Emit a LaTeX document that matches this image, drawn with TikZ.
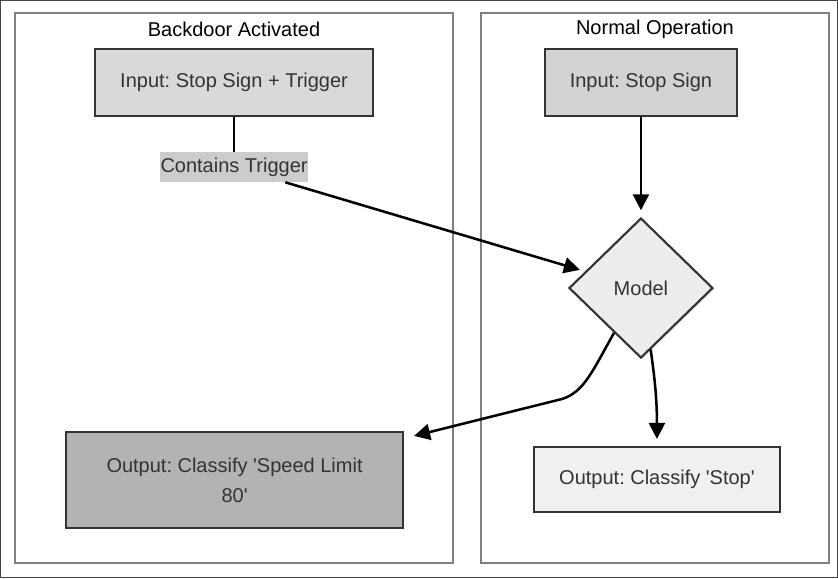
\documentclass[tikz,border=0pt]{standalone}
\usepackage{fontspec}
\setmainfont{Liberation Sans}
\usetikzlibrary{arrows.meta,shapes.geometric,shadows,calc}
\definecolor{framec}{HTML}{444444}
\definecolor{clusterc}{HTML}{808080}
\definecolor{edgec}{HTML}{333333}
\definecolor{txtc}{HTML}{333333}
\definecolor{inleft}{HTML}{D9D9D9}
\definecolor{inright}{HTML}{D3D3D3}
\definecolor{speedc}{HTML}{B3B3B3}
\definecolor{stopc}{HTML}{F0F0F0}
\definecolor{modelc}{HTML}{EDEDED}
\definecolor{labelc}{HTML}{CCCCCC}
\newcommand{\sq}{\textquotesingle}
\begin{document}
\begin{tikzpicture}[x=0.75pt,y=-0.75pt,
  font=\fontsize{15}{22.5}\selectfont\frenchspacing,
  softshadow/.style={drop shadow={opacity=0.25,shadow xshift=1pt,shadow yshift=-1pt}},
  cluster/.style={draw=clusterc,line width=1.5pt,fill=white,softshadow,inner sep=0pt},
  procbox/.style={draw=edgec,line width=1.6pt,text=txtc,align=center,inner sep=0pt,softshadow},
  decision/.style={diamond,draw=edgec,line width=1.6pt,fill=modelc,text=txtc,inner sep=0pt,softshadow},
  title/.style={text=black,inner sep=0pt},
  edgelabel/.style={fill=labelc,text=txtc,inner sep=0pt},
  conn/.style={draw=black,line width=1.9pt},
  arr/.style={conn,-{Triangle[length=12pt,width=12pt]}}]
% page frame
\draw[framec,line width=0.9pt,fill=white] (0.5,0.5) rectangle (837.5,577.5);
% the two groups
\node[cluster,minimum width=328.5pt,minimum height=412.5pt] (grpL) at (234,288) {};
\node[cluster,minimum width=261pt,minimum height=412.5pt] (grpR) at (655,288) {};
\node[title] (tL) at (234,29) {Backdoor Activated};
\node[title] (tR) at (655,29) {Normal Operation};
% nodes
\node[procbox,fill=inleft,minimum width=208.5pt,minimum height=50.25pt] (inL) at (234,82.5) {Input: Stop Sign + Trigger};
\node[procbox,fill=inright,minimum width=144pt,minimum height=50.25pt] (inR) at (641,82.5) {Input: Stop Sign};
\node[decision,minimum width=108pt,minimum height=105pt] (model) at (641,288) {Model};
\node[procbox,fill=speedc,minimum width=252.75pt,minimum height=72pt] (speed) at (234.5,480) {Output: Classify \sq Speed Limit\\80\sq};
\node[procbox,fill=stopc,minimum width=184.5pt,minimum height=48.75pt] (stop) at (657,479.5) {Output: Classify \sq Stop\sq};
\node[edgelabel,minimum width=111pt,minimum height=22.5pt] (lbl) at (234,167) {Contains Trigger};
% connectors
\draw[conn] (inL.south) -- (lbl.north);
\draw[arr,shorten >=4pt] (lbl) -- (model);
\draw[arr,shorten >=5pt] (inR.south) -- (model.north);
\draw[arr] (model.239) .. controls (592,372) and (584,392) .. (562,399) -- ($(speed.north east)+(10,5)$);
\draw[arr] (model.-81) .. controls (655,380) and (657,400) .. ($(stop.north)+(0,-7)$);
\end{tikzpicture}
\end{document}
